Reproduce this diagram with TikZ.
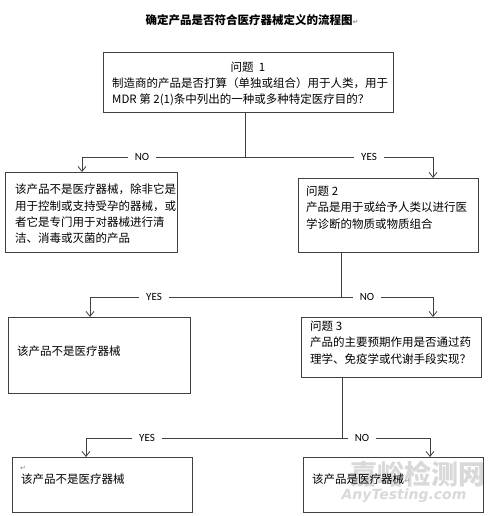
\documentclass[tikz,border=0pt]{standalone}
\usepackage{fontspec}
\setmainfont{Carlito}
\newfontfamily\cjk{Noto Sans CJK SC}
\newfontfamily\symf{DejaVu Sans}
\usetikzlibrary{arrows.meta}

\tikzset{
  box/.style={draw=black!75, line width=0.8pt, anchor=north west, inner sep=0pt},
  txt/.style={anchor=north west, inner sep=0pt, align=left,
    font=\cjk\fontsize{11.5}{16.2}\selectfont},
  flow/.style={draw=black!75, line width=0.8pt},
  flowarr/.style={flow, -{Straight Barb[length=5pt,width=8pt]}},
  lbl/.style={fill=white, inner xsep=7pt, inner ysep=1pt, font=\fontsize{11}{13}\selectfont},
  pmark/.style={inner sep=0pt, text=black!45, font=\symf\fontsize{7}{8}\selectfont}
}
\newcommand{\retmark}{{\symf\fontsize{7}{8}\selectfont\textcolor{black!45}{↵}}}

\begin{document}
\begin{tikzpicture}[x=1pt, y=-1pt]
  \useasboundingbox[fill=white] (0,0) rectangle (500,516);

  % watermark
  \node[text=black!15, font=\cjk\bfseries\fontsize{27}{30}\selectfont, inner sep=0pt]
    (wm) at (418,474) {嘉峪检测网};
  \node[text=black!15, font=\symf\bfseries\itshape\fontsize{14}{16}\selectfont, inner sep=0pt]
    (wmurl) at (404,496) {AnyTesting.com};

  % title
  \node[inner sep=0pt, font=\cjk\bfseries\fontsize{11.5}{14}\selectfont]
    (title) at (252,20) {确定产品是否符合医疗器械定义的流程图\retmark};

  % question 1
  \node[box, minimum width=290, minimum height=60] (q1) at (103,52) {};
  \node[inner sep=0pt, font=\cjk\fontsize{11.5}{14}\selectfont] (q1head) at (248,67) {问题 \ 1};
  \node[txt] (q1body) at (112,77.5)
    {制造商的产品是否打算（单独或组合）用于人类，用于\\
     MDR 第 2(1)条中列出的一种或多种特定医疗目的？};

  % answer NO to question 1
  \node[box, minimum width=172, minimum height=80] (no1) at (5,172) {};
  \node[txt] (no1body) at (15,184)
    {该产品不是医疗器械，除非它是\\
     用于控制或支持受孕的器械，或\\
     者它是专门用于对器械进行清\\
     洁、消毒或灭菌的产品};

  % question 2
  \node[box, minimum width=180, minimum height=74] (q2) at (298,178) {};
  \node[txt] (q2body) at (306,186)
    {问题 2\\
     产品是用于或给予人类以进行医\\
     学诊断的物质或物质组合};

  % answer YES to question 2
  \node[box, minimum width=182, minimum height=76] (no2) at (8,317) {};
  \node[txt] (no2body) at (17,346) {该产品不是医疗器械};

  % question 3
  \node[box, minimum width=180, minimum height=60] (q3) at (301,317) {};
  \node[txt] (q3body) at (310,321)
    {问题 3\\
     产品的主要预期作用是否通过药\\
     理学、免疫学或代谢手段实现？};

  % final answers
  \node[box, minimum width=180, minimum height=55] (no3) at (12,457) {};
  \node[pmark, anchor=west] (no3mark) at (20,468) {↵};
  \node[txt] (no3body) at (21,474) {该产品不是医疗器械};
  \node[box, minimum width=180, minimum height=55] (yes3) at (303,457) {};
  \node[txt] (yes3body) at (312,474) {该产品是医疗器械\retmark};

  % connectors
  \coordinate (j1) at (245,157);
  \coordinate (j2) at (341,297);
  \coordinate (j3) at (342,438);

  \draw[flow] (q1.south -| j1) -- (j1);
  \draw[flowarr] (j1) -| ([xshift=77pt]no1.north west);
  \draw[flowarr] (j1) -| ([xshift=135pt]q2.north west);
  \node[lbl] (lno1) at (142,157) {NO};
  \node[lbl] (lyes1) at (369,157) {YES};

  \draw[flow] (q2.south -| j2) -- (j2);
  \draw[flowarr] (j2) -| ([xshift=82pt]no2.north west);
  \draw[flowarr] (j2) -| ([xshift=132pt]q3.north west);
  \node[lbl] (lyes2) at (154,297) {YES};
  \node[lbl] (lno2) at (367,297) {NO};

  \draw[flow] (q3.south -| j3) -- (j3);
  \draw[flowarr] (j3) -| ([xshift=74pt]no3.north west);
  \draw[flowarr] (j3) -| ([xshift=127pt]yes3.north west);
  \node[lbl] (lyes3) at (147,438) {YES};
  \node[lbl] (lno3) at (362,438) {NO};
\end{tikzpicture}
\end{document}
